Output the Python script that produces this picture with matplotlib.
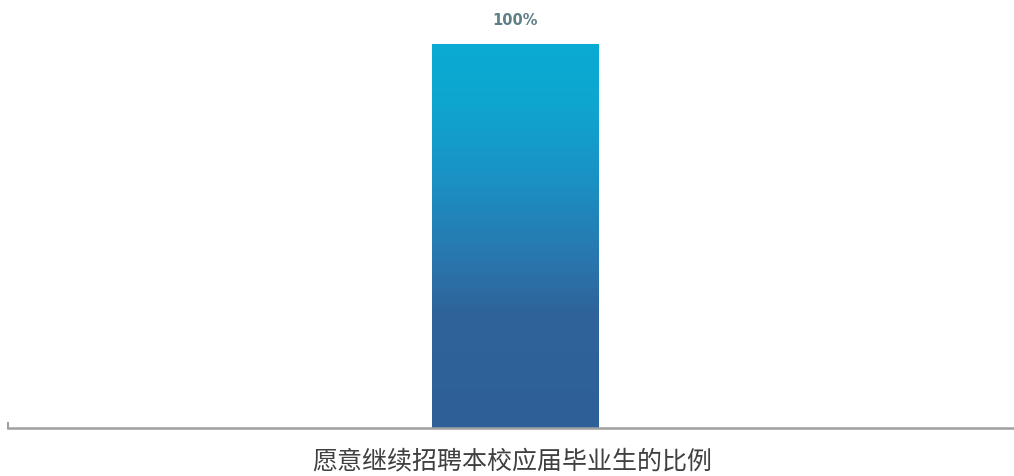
import numpy as np
import matplotlib
matplotlib.use("Agg")
import matplotlib.pyplot as plt
from matplotlib.colors import LinearSegmentedColormap

plt.rcParams['font.family'] = ['Noto Sans CJK SC', 'DejaVu Sans']

categories = ["愿意继续招聘本校应届毕业生的比例"]
values = [100]
value_labels = ["100%"]

fig = plt.figure(figsize=(10.14, 4.77), dpi=100)
ax = fig.add_axes([8/1014, 1 - 429/477, 1006/1014, 429/477])

x = np.arange(len(categories))
width = 0.166
bars = ax.bar(x, values, width=width, color='none', edgecolor='none', zorder=2)

ymax = 100 * 429 / (429 - 45)
ax.set_ylim(0, ymax)
ax.set_xlim(-(515.5 - 8) / 1006, 1 - (515.5 - 8) / 1006)

cmap = LinearSegmentedColormap.from_list(
    'g', [(0.0, '#2f6097'), (0.30, '#2e6399'), (0.42, '#2a74ac'),
          (0.65, '#1a91c4'), (0.85, '#0ea6cf'), (1.0, '#0aabd3')])
grad = np.linspace(0, 1, 256).reshape(-1, 1)
for b in bars:
    x0, w, h = b.get_x(), b.get_width(), b.get_height()
    im = ax.imshow(grad, cmap=cmap, origin='lower', aspect='auto',
                   extent=[x0, x0 + w, 0, h], zorder=2)
    im.set_clip_path(b)
    ax.annotate(value_labels[0], (b.get_x() + w / 2, h), xytext=(0, 17),
                textcoords='offset pixels', ha='center', va='bottom',
                fontsize=10.5, fontweight='bold', color='#5e7f86',
                family=['DejaVu Sans'])

ax.set_xlim(-(515.5 - 8) / 1006, 1 - (515.5 - 8) / 1006)
ax.set_ylim(0, ymax)

for s in ['top', 'right', 'left']:
    ax.spines[s].set_visible(False)
ax.spines['bottom'].set_color('#a0a0a0')
ax.spines['bottom'].set_linewidth(1.8)
ax.set_yticks([])
ax.set_xticks([])
ax.plot([ax.get_xlim()[0]] * 2, [0, ymax * 0.012], color='#a0a0a0', lw=1.5,
        clip_on=False)

fig.text(512 / 1014, 1 - 461 / 477, categories[0], ha='center', va='center',
         fontsize=18, color='#404040')

fig.savefig('out.png', dpi=100, facecolor='white')
